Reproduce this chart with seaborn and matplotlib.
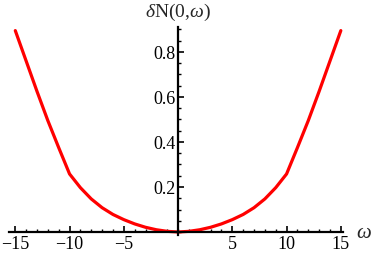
import matplotlib
matplotlib.use("Agg")
import matplotlib.pyplot as plt
import seaborn as sns
import pandas as pd
from matplotlib.ticker import MultipleLocator, FixedLocator

# data (symmetric curve)
omega_pos = [0, 1, 2, 3, 4, 5, 6, 7, 8, 9, 10, 11, 12, 13, 14, 15]
dN_pos = [0.0, 0.003, 0.010, 0.021, 0.036, 0.055, 0.078, 0.108, 0.147, 0.197,
          0.258, 0.375, 0.495, 0.625, 0.760, 0.895]

omega = [-w for w in omega_pos[::-1]] + omega_pos[1:]
dN = dN_pos[::-1] + dN_pos[1:]

x_ticks = [-15, -10, -5, 5, 10, 15]
y_ticks = [0.2, 0.4, 0.6, 0.8]

sns.set_style("white")
plt.rcParams['font.family'] = ['Liberation Serif', 'DejaVu Serif']
plt.rcParams['mathtext.fontset'] = 'custom'
plt.rcParams['mathtext.rm'] = 'Liberation Serif'
plt.rcParams['mathtext.it'] = 'Liberation Serif:italic'

df = pd.DataFrame({"omega": omega, "dN": dN})

fig = plt.figure(figsize=(3.74, 2.55), dpi=100)
ax = fig.add_axes([9/374, 1-236/255, 334/374, 208/255])
sns.lineplot(data=df, x="omega", y="dN", ax=ax, color="#ff0000", linewidth=2.3,
             sort=False, estimator=None)

ax.set_xlim(-15.58, 15.2)
ax.set_ylim(-0.0133, 0.911)

for s in ["top", "right"]:
    ax.spines[s].set_visible(False)
ax.spines["left"].set_position(("data", 0))
ax.spines["bottom"].set_position(("data", 0))
for s in ["left", "bottom"]:
    ax.spines[s].set_color("black")
    ax.spines[s].set_linewidth(1.6)

ax.xaxis.set_major_locator(FixedLocator(x_ticks))
ax.yaxis.set_major_locator(FixedLocator(y_ticks))
ax.xaxis.set_minor_locator(MultipleLocator(1))
ax.yaxis.set_minor_locator(MultipleLocator(0.05))
ax.set_xticklabels(["\u2212" + str(abs(t)) if t < 0 else str(t) for t in x_ticks])
ax.set_yticklabels([f"{t:.1f}" for t in y_ticks])
ax.tick_params(axis="both", which="both", bottom=True, left=True, top=False, right=False)
ax.tick_params(axis="both", which="major", direction="in", length=4, width=1.2,
               color="black", labelsize=13, labelcolor="black", pad=2)
ax.tick_params(axis="both", which="minor", direction="in", length=2.2, width=1.0,
               color="black")

ax.set_xlabel("")
ax.set_ylabel("")
fig.text(178/374, 1-12/255, r"$\delta$N(0,$\omega$)", ha="center", va="center",
         fontsize=14)
fig.text(364/374, 1-234/255, r"$\omega$", ha="center", va="center", fontsize=15)

fig.savefig("out.png", dpi=100)
